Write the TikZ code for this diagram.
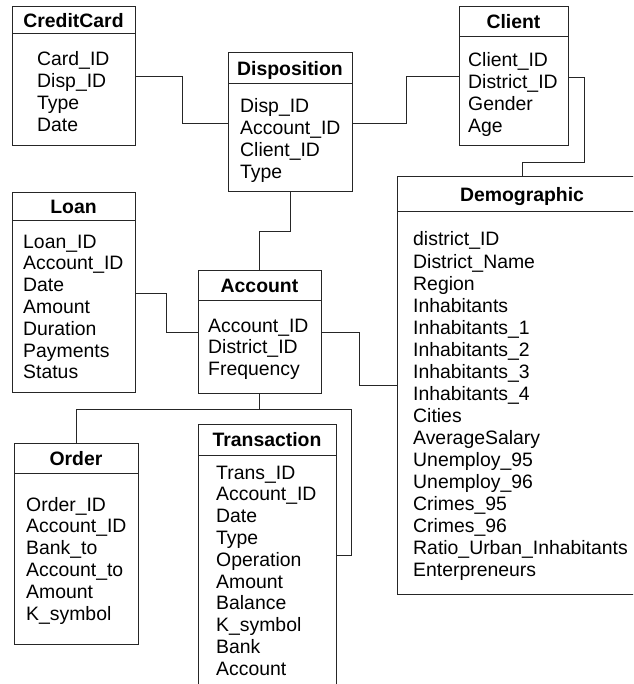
\documentclass[tikz,border=0pt]{standalone}
\usepackage{fontspec}
\setmainfont{Liberation Sans}
\begin{document}
\begin{tikzpicture}[x=1pt,y=-1pt,
  entity/.style={draw=black!85, line width=1pt, rectangle, inner sep=0pt, outer sep=0pt, anchor=north west},
  divider/.style={draw=black!85, line width=1pt},
  head/.style={font=\fontsize{19.4}{22}\selectfont\bfseries, anchor=base, inner sep=0pt},
  field/.style={font=\fontsize{19.4}{22}\selectfont, anchor=base west, inner sep=0pt},
  link/.style={draw=black!85, line width=0.9pt}]
\useasboundingbox (0,0) rectangle (633,684);
\clip (0,0) rectangle (633,684);

% ---------- entity boxes ----------
\node[entity, minimum width=123, minimum height=139] (cc)   at (12,7)    {};
\node[entity, minimum width=124, minimum height=139] (disp) at (228,53)  {};
\node[entity, minimum width=109, minimum height=139] (cl)   at (459,7)   {};
\node[entity, minimum width=123, minimum height=199] (loan) at (12,193)  {};
\node[entity, minimum width=123, minimum height=123] (acc)  at (198,270) {};
\node[entity, minimum width=250, minimum height=417] (demo) at (397,177) {};
\node[entity, minimum width=124, minimum height=201] (ord)  at (14,443)  {};
\node[entity, minimum width=138, minimum height=290] (tr)   at (198,424) {};

% ---------- header dividers ----------
\draw[divider] ([yshift=-27]cc.north west)   -- ([yshift=-27]cc.north east);
\draw[divider] ([yshift=-31]disp.north west) -- ([yshift=-31]disp.north east);
\draw[divider] ([yshift=-30]cl.north west)   -- ([yshift=-30]cl.north east);
\draw[divider] ([yshift=-28]loan.north west) -- ([yshift=-28]loan.north east);
\draw[divider] ([yshift=-30]acc.north west)  -- ([yshift=-30]acc.north east);
\draw[divider] ([yshift=-35]demo.north west) -- ([yshift=-35]demo.north east);
\draw[divider] ([yshift=-30]ord.north west)  -- ([yshift=-30]ord.north east);
\draw[divider] ([yshift=-31]tr.north west)   -- ([yshift=-31]tr.north east);

% ---------- titles ----------
\node[head] (cc-t)   at (73.5,27.5)  {CreditCard};
\node[head] (disp-t) at (290,75.5)   {Disposition};
\node[head] (cl-t)   at (513.5,29)   {Client};
\node[head] (loan-t) at (73.5,214)   {Loan};
\node[head] (acc-t)  at (259.5,292)  {Account};
\node[head] (demo-t) at (522,202)    {Demographic};
\node[head] (ord-t)  at (76,465)     {Order};
\node[head] (tr-t)   at (267,446.5)  {Transaction};

% ---------- attribute lists ----------
\foreach \f [count=\i] in {Card\_ID, Disp\_ID, Type, Date}
  \node[field] (cc-\i) at (37,{66+21.8*(\i-1)}) {\f};
\foreach \f [count=\i] in {Disp\_ID, Account\_ID, Client\_ID, Type}
  \node[field] (disp-\i) at (240,{113+21.8*(\i-1)}) {\f};
\foreach \f [count=\i] in {Client\_ID, District\_ID, Gender, Age}
  \node[field] (cl-\i) at (468,{67+21.8*(\i-1)}) {\f};
\foreach \f [count=\i] in {Loan\_ID, Account\_ID, Date, Amount, Duration, Payments, Status}
  \node[field] (loan-\i) at (23,{248+21.8*(\i-1)}) {\f};
\foreach \f [count=\i] in {Account\_ID, District\_ID, Frequency}
  \node[field] (acc-\i) at (208,{332+21.8*(\i-1)}) {\f};
\foreach \f [count=\i] in {district\_ID, District\_Name, Region, Inhabitants,
    Inhabitants\_1, Inhabitants\_2, Inhabitants\_3, Inhabitants\_4, Cities,
    AverageSalary, Unemploy\_95, Unemploy\_96, Crimes\_95, Crimes\_96,
    Ratio\_Urban\_Inhabitants, Enterpreneurs}
  \node[field] (demo-\i) at (413,{246+22*(\i-1)}) {\f};
\foreach \f [count=\i] in {Order\_ID, Account\_ID, Bank\_to, Account\_to, Amount, K\_symbol}
  \node[field] (ord-\i) at (26,{511+21.8*(\i-1)}) {\f};
\foreach \f [count=\i] in {Trans\_ID, Account\_ID, Date, Type, Operation, Amount,
    Balance, K\_symbol, Bank, Account}
  \node[field] (tr-\i) at (216,{479+21.8*(\i-1)}) {\f};

% ---------- relationships ----------
\draw[link] ([yshift=-69]cc.north east) -- ++(47,0) |- ([yshift=-70]disp.north west);
\draw[link] ([yshift=-70]disp.north east) -- ++(54,0) |- ([yshift=-69]cl.north west);
\draw[link] ([yshift=-70]cl.north east) -- ++(16,0) -- ++(0,85) -| (demo.north);
\draw[link] (disp.south) -- ++(0,39) -| (acc.north);
\draw[link] ([yshift=-100]loan.north east) -- ++(31,0) |- ([yshift=-62]acc.north west);
\draw[link] ([yshift=-62]acc.north east) -- ++(38,0) |- ([yshift=-208]demo.north west);
\coordinate (split) at ([yshift=-16]acc.south);
\draw[link] (acc.south) -- (split);
\draw[link] (split) -| (ord.north);
\draw[link] (split) -- ++(92,0) |- ([yshift=-131]tr.north east);
\end{tikzpicture}
\end{document}
